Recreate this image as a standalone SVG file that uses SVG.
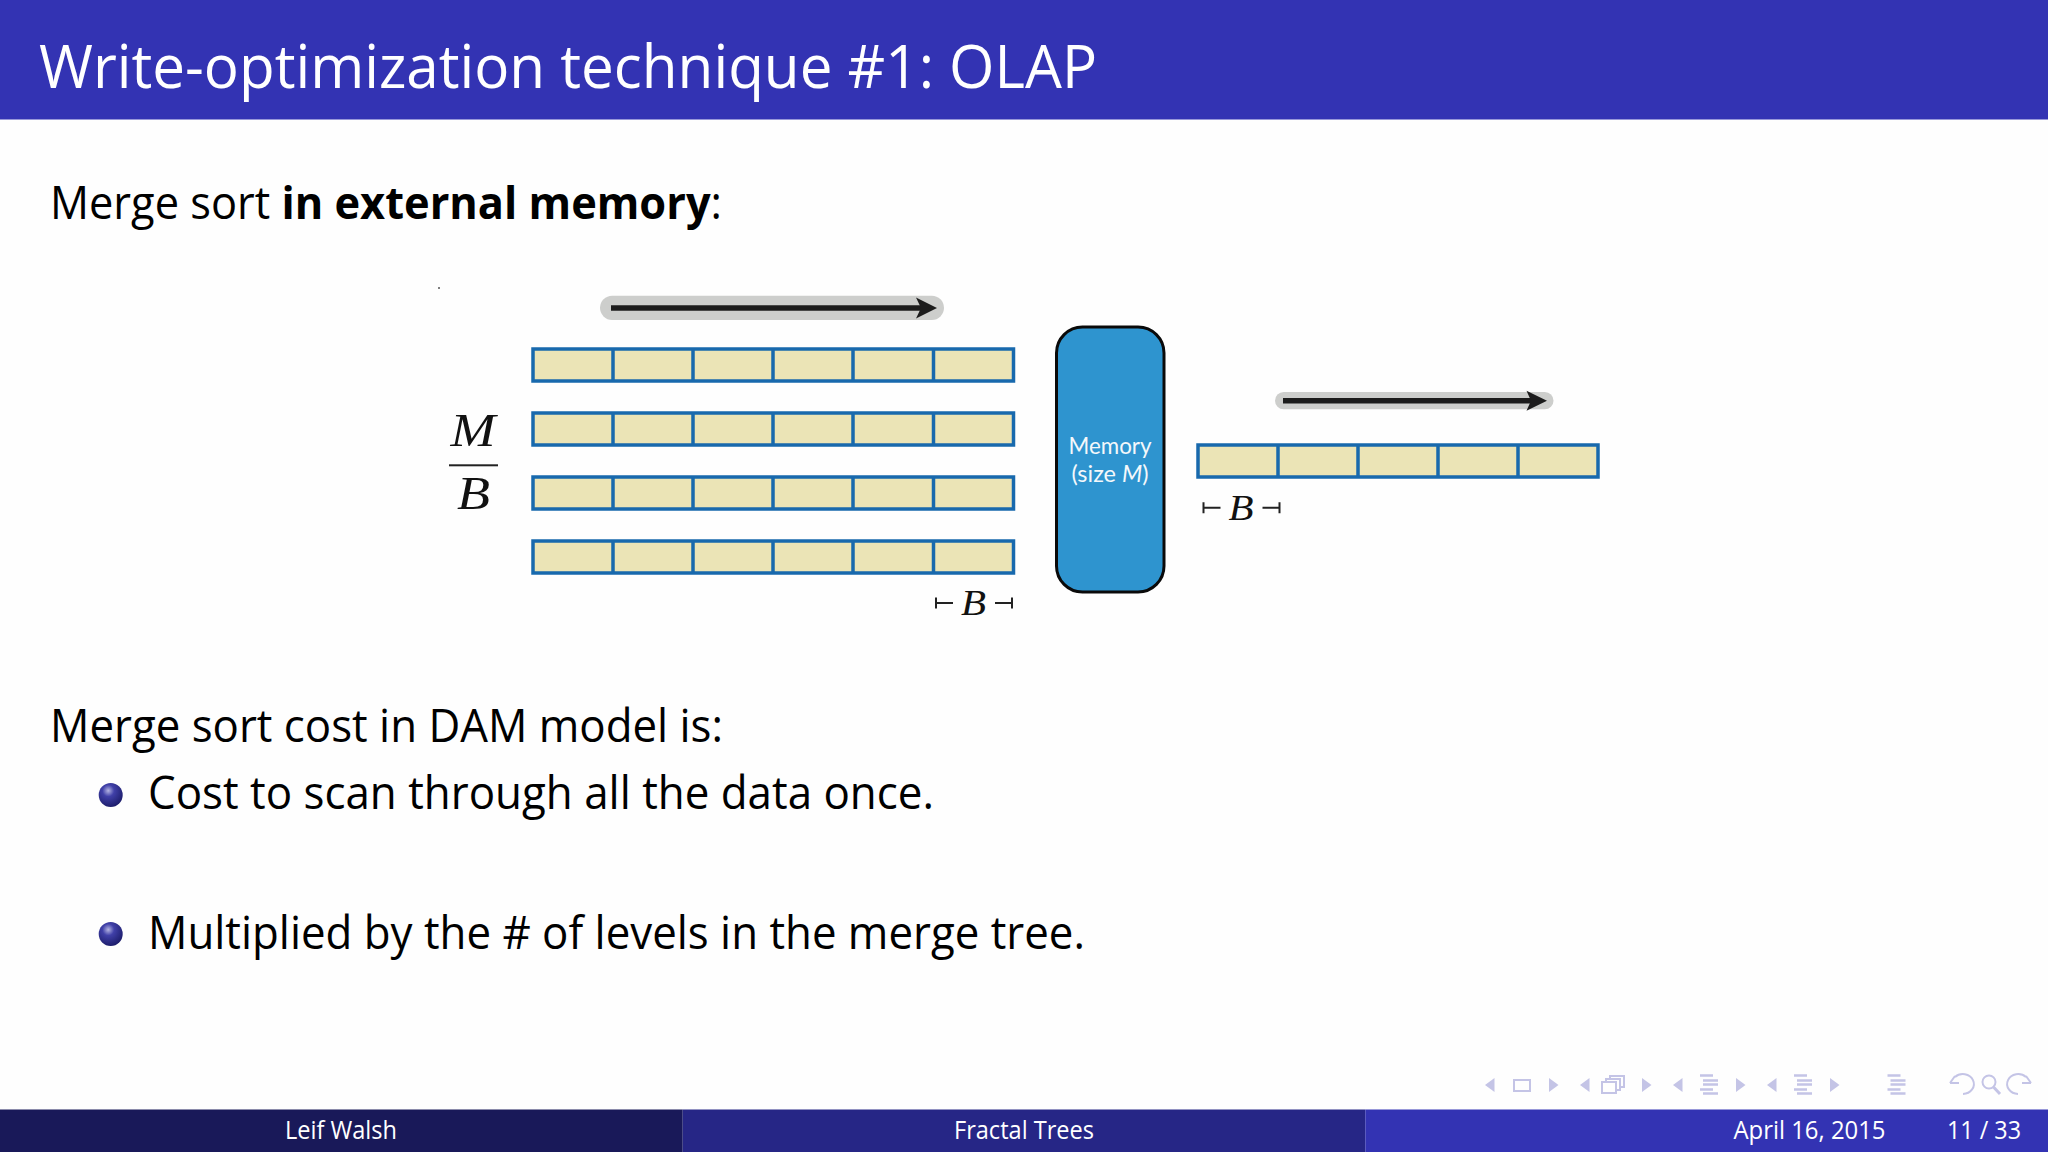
<svg xmlns="http://www.w3.org/2000/svg" width="2048" height="1152" viewBox="0 0 2048 1152">
<style>
.t{font-family:"Open Sans","Noto Sans",sans-serif;fill:#000}
.body{font-size:45px}
.foot{font-family:"Open Sans","Noto Sans",sans-serif;font-size:25px;fill:#fff}
.cell{fill:#ebe4b6;stroke:#1869ad;stroke-width:3.500}
.div{stroke:#1869ad;stroke-width:3.500}
.m{font-family:"Liberation Serif",serif;font-style:italic;fill:#111}
.tick{stroke:#222;stroke-width:2;fill:none}
.halo{fill:#cdcecc}
.shaft{stroke:#1c1c1c;stroke-width:5.500}
.nav{fill:#c4c4e6;stroke:none}
.navl{fill:none;stroke:#c4c4e6;stroke-width:2}
.navb{stroke:#c4c4e6;stroke-width:2.400}
</style>
<defs>
<radialGradient id="ball" cx="0.4" cy="0.32" r="0.7">
<stop offset="0" stop-color="#b4b4e2"/><stop offset="0.35" stop-color="#4040a8"/><stop offset="1" stop-color="#1c1c6a"/>
</radialGradient>
<g id="row6">
<rect class="cell" x="0" y="0" width="480.500" height="32"/>
<path class="div" d="M80 0V32M160 0V32M240 0V32M320 0V32M400.500 0V32"/>
</g>
<g id="bmark">
<path class="tick" d="M0 -5.500V5.500M0 0H17M76 -5.500V5.500M59 0H76"/>
</g>
<polygon id="tl" class="nav" points="9.500,0 9.500,14 0,7"/>
<polygon id="tr" class="nav" points="0,0 0,14 9.500,7"/>
<g id="lines">
<path class="navb" d="M0 1H13M3 6H18M3 10H18M0 15H13M3 19H18"/>
</g>
</defs>
<rect width="2048" height="1152" fill="#fefefe"/>
<g id="header">
<rect width="2048" height="119.500" fill="#3333b3"/>
<text x="39" y="88" font-family="Open Sans,Noto Sans,sans-serif" font-size="61" fill="#fff" textLength="1058" lengthAdjust="spacingAndGlyphs">Write-optimization technique #1: OLAP</text>
</g>
<g id="body-text">
<text class="t body" x="50" y="219" textLength="672" lengthAdjust="spacingAndGlyphs">Merge sort <tspan font-weight="700">in external memory</tspan>:</text>
<text class="t body" x="50" y="742" textLength="673" lengthAdjust="spacingAndGlyphs">Merge sort cost in DAM model is:</text>
<circle cx="110.700" cy="795" r="12" fill="url(#ball)"/>
<text class="t body" x="148" y="809" textLength="786" lengthAdjust="spacingAndGlyphs">Cost to scan through all the data once.</text>
<circle cx="110.700" cy="934" r="12" fill="url(#ball)"/>
<text class="t body" x="148" y="949" textLength="937" lengthAdjust="spacingAndGlyphs">Multiplied by the # of levels in the merge tree.</text>
</g>
<circle cx="439" cy="288" r="1" fill="#555"/>
<g id="input-runs">
<use href="#row6" x="533" y="349"/>
<use href="#row6" x="533" y="413"/>
<use href="#row6" x="533" y="477"/>
<use href="#row6" x="533" y="541"/>
</g>
<g id="fraction">
<text class="m" x="473" y="446" font-size="46" text-anchor="middle" textLength="45" lengthAdjust="spacingAndGlyphs">M</text>
<rect x="449" y="464.300" width="49" height="2" fill="#222"/>
<text class="m" x="473.500" y="509" font-size="46" text-anchor="middle" textLength="33" lengthAdjust="spacingAndGlyphs">B</text>
</g>
<g id="b-label-left">
<use href="#bmark" x="936" y="603"/>
<text class="m" x="973.500" y="615" font-size="36" text-anchor="middle" textLength="25" lengthAdjust="spacingAndGlyphs">B</text>
</g>
<g id="memory">
<rect x="1056.500" y="327" width="107.500" height="265" rx="26" fill="#2e94cf" stroke="#0a0a0a" stroke-width="3"/>
<text x="1110" y="454" font-family="Lato,sans-serif" font-size="23" fill="#f4f8fb" text-anchor="middle" textLength="83" lengthAdjust="spacingAndGlyphs">Memory</text>
<text x="1110" y="482" font-family="Lato,sans-serif" font-size="23" fill="#f4f8fb" text-anchor="middle" textLength="77" lengthAdjust="spacingAndGlyphs">(size <tspan font-style="italic">M</tspan>)</text>
</g>
<g id="output-run">
<rect class="cell" x="1198" y="445" width="400" height="32"/>
<path class="div" d="M1278 445V477M1358 445V477M1438 445V477M1518 445V477"/>
</g>
<g id="b-label-right">
<use href="#bmark" x="1203.500" y="507.700"/>
<text class="m" x="1241" y="519.500" font-size="36" text-anchor="middle" textLength="25" lengthAdjust="spacingAndGlyphs">B</text>
</g>
<g id="connectors">
<rect class="halo" x="600" y="295.700" width="344" height="24.300" rx="12.150"/>
<line class="shaft" x1="611" y1="308" x2="925" y2="308"/>
<polygon points="937,308 916,297.500 921,308 916,318.500" fill="#1c1c1c"/>
<rect class="halo" x="1275" y="392" width="278.500" height="17.300" rx="8.650"/>
<line class="shaft" x1="1283" y1="400.700" x2="1535" y2="400.700"/>
<polygon points="1547,400.700 1526.500,390.700 1531,400.700 1526.500,410.700" fill="#1c1c1c"/>
</g>
<g id="footer">
<rect x="0" y="1109.500" width="682.700" height="42.500" fill="#191959"/>
<rect x="682.700" y="1109.500" width="682.600" height="42.500" fill="#262686"/>
<rect x="1365.300" y="1109.500" width="682.700" height="42.500" fill="#3333b3"/>
<text class="foot" x="341" y="1139" text-anchor="middle" textLength="112" lengthAdjust="spacingAndGlyphs">Leif Walsh</text>
<text class="foot" x="1024" y="1139" text-anchor="middle" textLength="140" lengthAdjust="spacingAndGlyphs">Fractal Trees</text>
<text class="foot" x="1733.500" y="1139" textLength="152" lengthAdjust="spacingAndGlyphs">April 16, 2015</text>
<text class="foot" x="1947" y="1139" textLength="74" lengthAdjust="spacingAndGlyphs">11 / 33</text>
</g>
<g id="nav">
<use href="#tl" x="1485" y="1078"/>
<rect class="navl" x="1514" y="1080" width="16" height="11"/>
<use href="#tr" x="1549" y="1078"/>
<use href="#tl" x="1580" y="1078"/>
<rect class="navl" x="1610" y="1076" width="14" height="11"/>
<rect class="navl" x="1606" y="1079" width="14" height="11" style="fill:#fefefe"/>
<rect class="navl" x="1602" y="1082" width="14" height="11" style="fill:#fefefe"/>
<use href="#tr" x="1642" y="1078"/>
<use href="#tl" x="1673" y="1078"/>
<use href="#lines" x="1700" y="1074.500"/>
<use href="#tr" x="1736" y="1078"/>
<use href="#tl" x="1767" y="1078"/>
<use href="#lines" x="1794" y="1074.500"/>
<use href="#tr" x="1830" y="1078"/>
<use href="#lines" x="1887.500" y="1074.500"/>
<path class="navl" d="M1955 1077A11 10 0 1 1 1963 1094M1950 1083H1959M1950 1083L1955 1076"/>
<circle class="navl" cx="1989" cy="1082" r="6.500"/>
<path class="navl" d="M1993.500 1087L2000 1094" style="stroke-width:3"/>
<path class="navl" d="M2026 1077A11 10 0 1 0 2018 1094M2031 1083H2022M2031 1083L2026 1076"/>
</g>
</svg>
